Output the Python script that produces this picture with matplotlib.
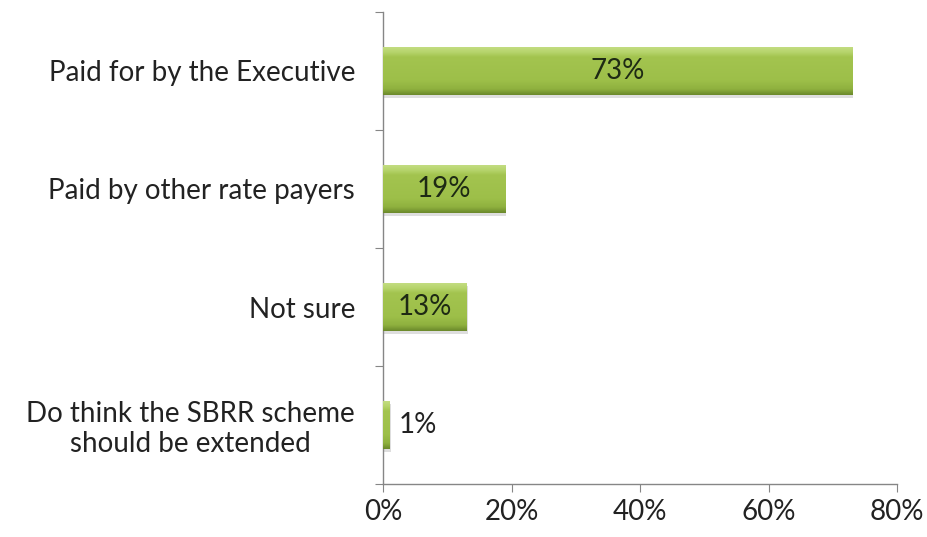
import numpy as np
import matplotlib
matplotlib.use('Agg')
import matplotlib.pyplot as plt
from matplotlib.colors import LinearSegmentedColormap

plt.rcParams['font.family'] = ['Lato', 'DejaVu Sans']

categories = ['Paid for by the Executive', 'Paid by other rate payers', 'Not sure',
              'Do think the SBRR scheme\nshould be extended']
values = [73, 19, 13, 1]
labels = ['73%', '19%', '13%', '1%']
xticks = [0, 20, 40, 60, 80]

fig = plt.figure(figsize=(9.28, 5.37), dpi=100)
ax = fig.add_axes([383/928, 1-484/537, (897-383)/928, (484-12)/537])

ypos = np.arange(len(categories))[::-1]  # top to bottom
h = 0.4
# subtle bevel: dark bottom edge, flat body, light top edge
cmap = LinearSegmentedColormap.from_list('g', [(0, '#6c8a2c'), (0.12, '#8fb13f'),
                                               (0.3, '#9dbf49'), (0.8, '#a3c44f'),
                                               (0.9, '#b6d46c'), (1, '#c2dc80')])
grad = np.linspace(0, 1, 64).reshape(-1, 1)

bars = ax.barh(ypos, values, height=h, color='#9dbf49', edgecolor='none', zorder=2)
for b in bars:
    x0, y0, w, hh = b.get_x(), b.get_y(), b.get_width(), b.get_height()
    # soft shadow
    ax.barh(y0 + hh/2 - 0.025, w, left=x0 + 0.2, height=hh, color='#c8c8c8', alpha=0.6, zorder=1)
    im = ax.imshow(grad, cmap=cmap, aspect='auto', extent=[x0, x0 + w, y0, y0 + hh],
                   origin='lower', zorder=3)
    im.set_clip_path(b)

for y, v, t in zip(ypos, values, labels):
    if v > 5:
        ax.text(v/2, y, t, ha='center', va='center', fontsize=20, color='#1e2a14', zorder=4)
    else:
        ax.text(v + 1.5, y, t, ha='left', va='center', fontsize=20, color='#222222', zorder=4)

ax.set_xlim(0, 80)
ax.set_ylim(-0.5, 3.5)
ax.set_xticks(xticks)
ax.set_xticklabels([f'{x}%' for x in xticks], fontsize=20, color='#222222')
ax.set_yticks(np.arange(-0.5, 4.0, 1.0))
ax.set_yticklabels([])
ax.set_yticks(ypos, minor=True)
ax.set_yticklabels(categories, minor=True, fontsize=20, color='#222222', ha='right',
                   multialignment='center', linespacing=1.15)
ax.tick_params(axis='y', which='minor', length=0, pad=20)
ax.tick_params(axis='y', which='major', length=6, color='#868686', direction='out')
ax.tick_params(axis='x', length=6, color='#868686', direction='out', pad=5)

for s in ['top', 'right']:
    ax.spines[s].set_visible(False)
for s in ['left', 'bottom']:
    ax.spines[s].set_color('#868686')
    ax.spines[s].set_linewidth(1)

fig.savefig('out.png', dpi=100)
